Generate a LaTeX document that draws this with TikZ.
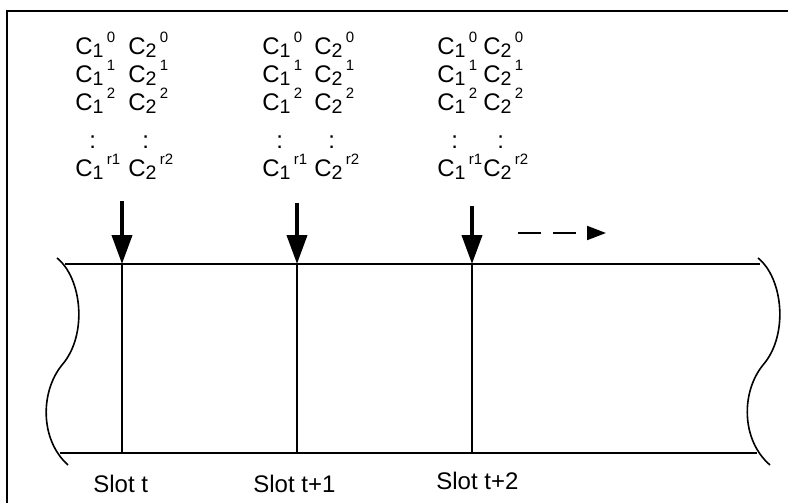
\documentclass[tikz,border=0pt]{standalone}
\usepackage{fontspec}
\setmainfont{Liberation Sans}
\usepackage{tikz}
\usetikzlibrary{arrows.meta}

% codeword C_i^j, superscript set after the subscript
\newcommand{\cterm}[2]{C\raisebox{-1.4pt}{\fontsize{9.8}{9}\selectfont #1}\kern1.6pt\raisebox{5.8pt}{\fontsize{7.5}{7}\selectfont #2}}
% vertical dots under the subscript
\newcommand{\cdotsunder}{\hspace*{7pt}:}

\begin{document}
\begin{tikzpicture}[x=0.5pt,y=-0.5pt,
    codes/.style={anchor=north west,inner sep=0pt,align=left,font=\fontsize{12}{14}\selectfont},
    slotlabel/.style={anchor=base west,inner sep=0pt,font=\fontsize{12}{14}\selectfont},
    strip/.style={line width=0.9pt},
    feed/.style={line width=2pt,-{Triangle[length=14.5pt,width=10pt]}}]
    \useasboundingbox (0,0) rectangle (788,503);
    % Frame
    \draw[line width=0.75pt] (7,503) -- (7,11) -- (788,11);
    % Def coords
    \coordinate (TL) at (65,264);
    \coordinate (TR) at (760,264);
    \coordinate (BL) at (60,453);
    \coordinate (BR) at (757,453);
    \coordinate (A) at (122,264);
    \coordinate (A') at (122,453);
    \coordinate (B) at (297,264);
    \coordinate (B') at (297,453);
    \coordinate (C) at (472,264);
    \coordinate (C') at (472,453);
    \coordinate (FA) at (122,201);
    \coordinate (FB) at (297,203);
    \coordinate (FC) at (472,206);
    \coordinate (S) at (518,233);
    \coordinate (E) at (606,233);
    % Draw strip
    \draw[strip] (TL) -- (TR);
    \draw[strip] (BL) -- (BR);
    \draw[line width=0.8pt] (57,258) .. controls (82,278) and (88,335) .. (62,365)
        .. controls (40,392) and (40,440) .. (68,465);
    \draw[line width=0.8pt] (758,258) .. controls (783,278) and (789,335) .. (763,365)
        .. controls (741,392) and (741,440) .. (770,465);
    % Slot borders
    \draw[line width=0.7pt] (A) -- (A');
    \draw[line width=0.7pt] (B) -- (B');
    \draw[line width=0.7pt] (C) -- (C');
    % Draw arrows
    \draw[feed] (FA) -- (A);
    \draw[feed] (FB) -- (B);
    \draw[feed] (FC) -- (C);
    \draw[line width=1pt, dash pattern=on 11.5pt off 6pt, -{Triangle[length=9.5pt,width=7pt]}] (S) -- (E);
    % Codewords
    \node[codes] (c1a) at (75,32) {\cterm{1}{0}\\ \cterm{1}{1}\\ \cterm{1}{2}\\[5pt] \cdotsunder\\ \cterm{1}{r1}};
    \node[codes] (c2a) at (128,32) {\cterm{2}{0}\\ \cterm{2}{1}\\ \cterm{2}{2}\\[5pt] \cdotsunder\\ \cterm{2}{r2}};
    \node[codes] (c1b) at (262,32) {\cterm{1}{0}\\ \cterm{1}{1}\\ \cterm{1}{2}\\[5pt] \cdotsunder\\ \cterm{1}{r1}};
    \node[codes] (c2b) at (314,32) {\cterm{2}{0}\\ \cterm{2}{1}\\ \cterm{2}{2}\\[5pt] \cdotsunder\\ \cterm{2}{r2}};
    \node[codes] (c1c) at (437,32) {\cterm{1}{0}\\ \cterm{1}{1}\\ \cterm{1}{2}\\[5pt] \cdotsunder\\ \cterm{1}{r1}};
    \node[codes] (c2c) at (483,32) {\cterm{2}{0}\\ \cterm{2}{1}\\ \cterm{2}{2}\\[5pt] \cdotsunder\\ \cterm{2}{r2}};
    % Label
    \node[slotlabel] (la) at (93,492) {Slot t};
    \node[slotlabel] (lb) at (253,492) {Slot t+1};
    \node[slotlabel] (lc) at (436,489) {Slot t+2};
  \end{tikzpicture}
\end{document}
